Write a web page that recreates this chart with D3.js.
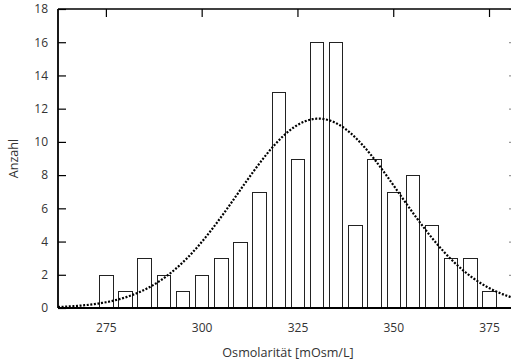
<!DOCTYPE html>
<html>
<head>
<meta charset="utf-8">
<script src="https://cdn.jsdelivr.net/npm/d3@7"></script>
<style>
  body { margin: 0; background: #fff; }
  text { font-family: "Open Sans", sans-serif; fill: #333; }
</style>
</head>
<body>
<div class="root"></div>
<script>
// bin centres and counts
var binCenters = [275, 280, 285, 290, 295, 300, 305, 310, 315, 320, 325, 330, 335, 340, 345, 350, 355, 360, 365, 370, 375];
var counts     = [2, 1, 3, 2, 1, 2, 3, 4, 7, 13, 9, 16, 16, 5, 9, 7, 8, 5, 3, 3, 1];
var xTicks = [275, 300, 325, 350, 375];
var yTicks = [0, 2, 4, 6, 8, 10, 12, 14, 16, 18];
var binWidth = 5;
// normal fit
var fitMean = 330.5,
    fitSd   = 21;

var width = 511, height = 362;
var margin = {left: 58, top: 9, right: -1, bottom: 54};

var svg = d3.select('.root').append('svg')
  .attr("width", width)
  .attr("height", height);

var x = d3.scaleLinear().domain([262.5, 381]).range([margin.left, width - margin.right]);
var y = d3.scaleLinear().domain([0, 18]).range([height - margin.bottom, margin.top]);

// bars
var total = d3.sum(counts);
var bars = binCenters.map(function (c, i) { return {x: c, n: counts[i]}; });

svg.append('g')
  .selectAll('rect')
  .data(bars)
  .enter()
  .append('rect')
  .attr("x", function (d) { return Math.round(x(d.x - 1.75)) + 0.5; })
  .attr("y", function (d) { return Math.round(y(d.n)) + 0.5; })
  .attr("width", function (d) { return Math.round(x(d.x + 1.75)) - Math.round(x(d.x - 1.75)); })
  .attr("height", function (d) { return Math.round(y(0)) - Math.round(y(d.n)); })
  .attr("fill", "#fff")
  .attr("stroke", "#222")
  .attr("stroke-width", 1);

// fitted normal curve
var curveX = d3.range(262.5, 381.01, 0.5);
var scale = total * binWidth / (fitSd * Math.sqrt(2 * Math.PI));
var curve = curveX.map(function (v) {
  return [v, scale * Math.exp(-Math.pow(v - fitMean, 2) / (2 * fitSd * fitSd))];
});

svg.append('path')
  .datum(curve)
  .attr("fill", "none")
  .attr("stroke", "#000")
  .attr("stroke-width", 2.2)
  .attr("stroke-dasharray", "2,1.6")
  .attr("d", d3.line()
    .x(function (d) { return x(d[0]); })
    .y(function (d) { return y(d[1]); }));

// axes
var yAxis = svg.append('g')
  .attr("transform", "translate(" + margin.left + ",0)")
  .call(d3.axisLeft(y).tickValues(yTicks).tickSize(-8).tickPadding(10));
yAxis.select('.domain').remove();

var yAxisR = svg.append('g')
  .attr("transform", "translate(" + (width - margin.right) + ",0)")
  .call(d3.axisRight(y).tickValues(yTicks).tickSize(-3).tickFormat(""));
yAxisR.select('.domain').remove();
yAxisR.selectAll('line').attr("stroke", "#999");

var xAxis = svg.append('g')
  .attr("transform", "translate(0," + y(0) + ")")
  .call(d3.axisBottom(x).tickValues(xTicks).tickSize(0).tickPadding(15));
xAxis.select('.domain').remove();

var xAxisTop = svg.append('g')
  .attr("transform", "translate(0," + margin.top + ")")
  .call(d3.axisTop(x).tickValues(xTicks).tickSize(-8).tickFormat(""));
xAxisTop.select('.domain').remove();

svg.selectAll('.tick text').style("font-size", "12px").attr("fill", "#333");
svg.selectAll('.tick line').attr("stroke-width", 1.2);

// frame
svg.append('line')
  .attr("x1", margin.left).attr("x2", width)
  .attr("y1", margin.top).attr("y2", margin.top)
  .attr("stroke", "#000").attr("stroke-width", 1.5);
svg.append('line')
  .attr("x1", margin.left).attr("x2", width)
  .attr("y1", y(0)).attr("y2", y(0))
  .attr("stroke", "#000").attr("stroke-width", 1.8);
svg.append('line')
  .attr("x1", margin.left).attr("x2", margin.left)
  .attr("y1", margin.top).attr("y2", y(0))
  .attr("stroke", "#000").attr("stroke-width", 1.8);

// labels
svg.append('text')
  .attr("x", 288)
  .attr("y", 357)
  .attr("text-anchor", "middle")
  .style("font-size", "12.6px")
  .text("Osmolarität [mOsm/L]");

svg.append('text')
  .attr("transform", "translate(18," + (margin.top + y(0)) / 2 + ") rotate(-90)")
  .attr("text-anchor", "middle")
  .style("font-size", "12.6px")
  .text("Anzahl");
</script>
</body>
</html>
